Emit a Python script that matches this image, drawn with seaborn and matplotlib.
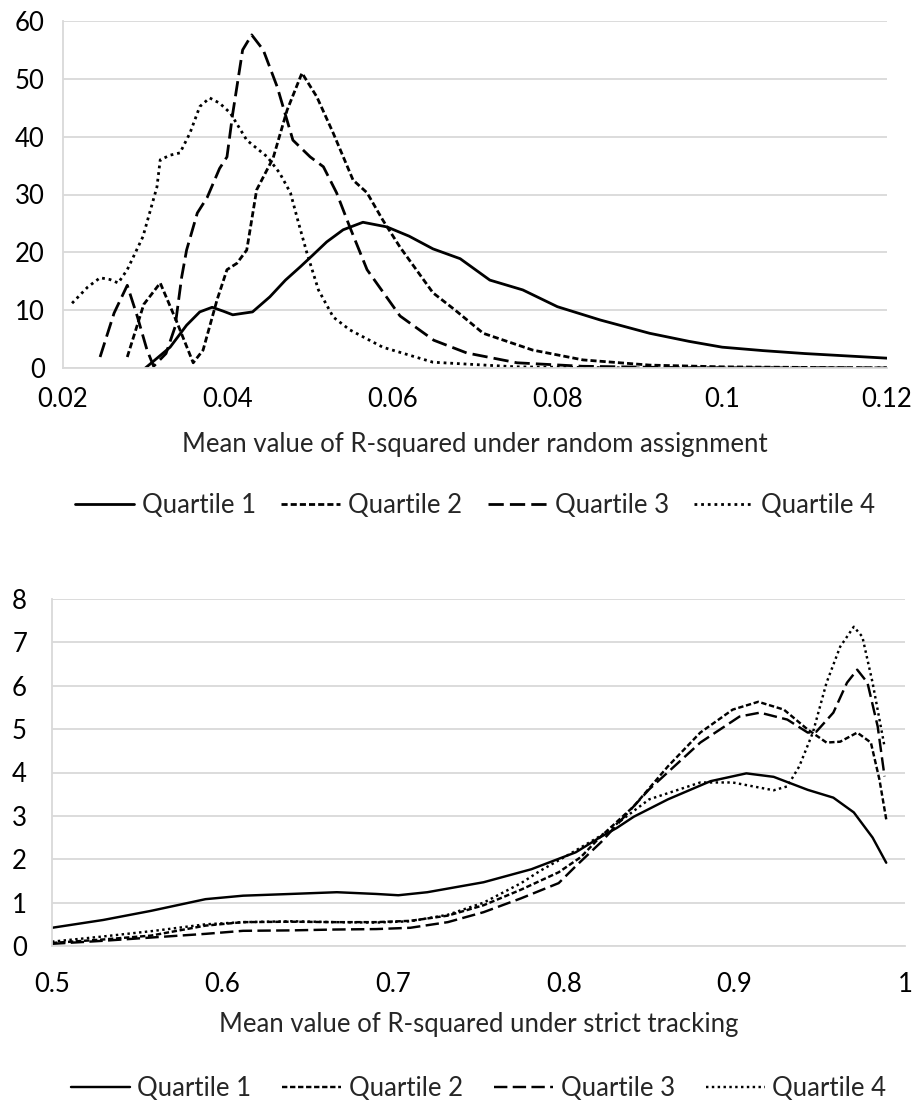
import matplotlib
matplotlib.use("Agg")
import matplotlib.pyplot as plt
import seaborn as sns
import pandas as pd

# panel 1: random assignment
ra_q1_x = [0.0300, 0.0330, 0.0350, 0.0366, 0.0381, 0.0395, 0.0406, 0.0430, 0.0451, 0.0470,
           0.0488, 0.0503, 0.0520, 0.0540, 0.0564, 0.0593, 0.0620, 0.0649, 0.0682, 0.0718,
           0.0758, 0.0800, 0.0852, 0.0912, 0.0960, 0.1000, 0.1050, 0.1100, 0.1200]
ra_q1_y = [0.0, 3.6, 7.4, 9.7, 10.5, 9.8, 9.2, 9.7, 12.3, 15.2,
           17.5, 19.5, 21.8, 23.9, 25.2, 24.4, 22.8, 20.6, 18.9, 15.2,
           13.5, 10.6, 8.3, 6.0, 4.6, 3.6, 3.0, 2.5, 1.7]

ra_q2_x = [0.0278, 0.0298, 0.0318, 0.0338, 0.0358, 0.0370, 0.0387, 0.0399, 0.0411, 0.0423,
           0.0435, 0.0455, 0.0472, 0.0490, 0.0508, 0.0528, 0.0552, 0.0569, 0.0588, 0.0609,
           0.0649, 0.0676, 0.0710, 0.0770, 0.0831, 0.0912, 0.1000, 0.1200]
ra_q2_y = [1.9, 11.0, 14.7, 8.0, 0.9, 3.1, 11.8, 17.0, 18.1, 20.4,
           30.8, 36.3, 44.6, 51.0, 46.9, 40.6, 32.5, 30.3, 25.6, 20.9,
           13.0, 10.0, 6.0, 3.1, 1.4, 0.5, 0.2, 0.0]

ra_q3_x = [0.0245, 0.0262, 0.0278, 0.0290, 0.0302, 0.0310, 0.0325, 0.0336, 0.0344, 0.0350,
           0.0363, 0.0375, 0.0390, 0.0399, 0.0406, 0.0418, 0.0429, 0.0443, 0.0460, 0.0479,
           0.0500, 0.0516, 0.0532, 0.0548, 0.0569, 0.0609, 0.0650, 0.0690, 0.0751, 0.0830,
           0.0950, 0.1200]
ra_q3_y = [1.9, 9.5, 14.3, 9.0, 3.1, 0.3, 2.5, 7.1, 15.7, 20.4,
           26.8, 29.5, 34.5, 36.5, 44.0, 55.0, 57.6, 55.0, 48.6, 39.4,
           36.5, 34.8, 30.3, 24.4, 17.0, 9.0, 4.8, 2.6, 0.9, 0.3,
           0.05, 0.0]

ra_q4_x = [0.0211, 0.0230, 0.0245, 0.0257, 0.0267, 0.0278, 0.0297, 0.0314, 0.0318, 0.0330,
           0.0342, 0.0354, 0.0366, 0.0378, 0.0390, 0.0403, 0.0423, 0.0448, 0.0463, 0.0476,
           0.0486, 0.0496, 0.0510, 0.0528, 0.0548, 0.0588, 0.0649, 0.0750, 0.0900, 0.1200]
ra_q4_y = [11.2, 14.0, 15.6, 15.3, 14.7, 17.0, 22.7, 31.3, 36.0, 36.8,
           37.2, 40.6, 45.2, 46.7, 45.8, 44.1, 39.4, 36.5, 33.7, 30.3,
           25.0, 19.9, 13.5, 8.8, 6.6, 3.6, 1.0, 0.2, 0.0, 0.0]

# panel 2: strict tracking
st_q1_x = [0.500, 0.530, 0.558, 0.590, 0.612, 0.640, 0.667, 0.690, 0.703, 0.720,
           0.753, 0.781, 0.807, 0.821, 0.831, 0.841, 0.861, 0.886, 0.907, 0.923,
           0.943, 0.958, 0.970, 0.981, 0.989]
st_q1_y = [0.42, 0.60, 0.81, 1.08, 1.16, 1.20, 1.24, 1.20, 1.17, 1.24,
           1.47, 1.77, 2.16, 2.50, 2.72, 2.98, 3.38, 3.80, 3.98, 3.90,
           3.60, 3.42, 3.08, 2.50, 1.92]

st_q2_x = [0.500, 0.530, 0.558, 0.590, 0.612, 0.640, 0.666, 0.690, 0.710, 0.732,
           0.753, 0.775, 0.797, 0.810, 0.821, 0.841, 0.861, 0.880, 0.899, 0.914,
           0.929, 0.943, 0.954, 0.962, 0.972, 0.980, 0.985, 0.989]
st_q2_y = [0.07, 0.15, 0.24, 0.47, 0.55, 0.56, 0.55, 0.55, 0.58, 0.70,
           0.94, 1.30, 1.70, 2.05, 2.50, 3.22, 4.14, 4.92, 5.45, 5.63,
           5.45, 4.99, 4.69, 4.71, 4.92, 4.69, 3.84, 2.92]

st_q3_x = [0.500, 0.530, 0.560, 0.590, 0.612, 0.640, 0.666, 0.690, 0.710, 0.732,
           0.753, 0.775, 0.797, 0.807, 0.822, 0.850, 0.880, 0.903, 0.915, 0.931,
           0.943, 0.948, 0.958, 0.966, 0.972, 0.978, 0.984, 0.988]
st_q3_y = [0.05, 0.12, 0.20, 0.28, 0.35, 0.36, 0.38, 0.39, 0.42, 0.55,
           0.78, 1.10, 1.45, 1.84, 2.40, 3.61, 4.69, 5.29, 5.38, 5.22,
           4.92, 4.94, 5.38, 6.07, 6.37, 6.07, 5.06, 3.91]

st_q4_x = [0.500, 0.530, 0.560, 0.590, 0.612, 0.640, 0.666, 0.690, 0.710, 0.732,
           0.753, 0.775, 0.786, 0.803, 0.822, 0.850, 0.880, 0.899, 0.923, 0.931,
           0.938, 0.946, 0.954, 0.962, 0.970, 0.975, 0.981, 0.988]
st_q4_y = [0.10, 0.22, 0.35, 0.50, 0.55, 0.57, 0.55, 0.54, 0.57, 0.72,
           1.00, 1.45, 1.73, 2.11, 2.55, 3.38, 3.77, 3.77, 3.59, 3.68,
           4.14, 4.92, 6.07, 6.90, 7.36, 7.13, 6.07, 4.60]

series_names = ["Quartile 1", "Quartile 2", "Quartile 3", "Quartile 4"]
ra_xticks = [0.02, 0.04, 0.06, 0.08, 0.1, 0.12]
ra_xticklabels = ["0.02", "0.04", "0.06", "0.08", "0.1", "0.12"]
ra_yticks = [0, 10, 20, 30, 40, 50, 60]
st_xticks = [0.5, 0.6, 0.7, 0.8, 0.9, 1.0]
st_xticklabels = ["0.5", "0.6", "0.7", "0.8", "0.9", "1"]
st_yticks = [0, 1, 2, 3, 4, 5, 6, 7, 8]


def long_frame(xs, ys):
    parts = []
    for name, x, y in zip(series_names, xs, ys):
        parts.append(pd.DataFrame({"x": x, "y": y, "series": name}))
    return pd.concat(parts, ignore_index=True)


dash_map = {"Quartile 1": "", "Quartile 2": (2.2, 1.1), "Quartile 3": (5.5, 2.2),
            "Quartile 4": (1.0, 1.4)}
GRID = "#d9d9d9"
FS = 18.5

sns.set_style("white")
plt.rcParams["font.family"] = ["Lato", "DejaVu Sans"]

fig = plt.figure(figsize=(9.13, 11.01), dpi=100)
ax1 = fig.add_axes([63 / 913, 1 - 368 / 1101, 824 / 913, 347 / 1101])
ax2 = fig.add_axes([52 / 913, 1 - 946 / 1101, 853 / 913, 347 / 1101])


def draw(ax, df, lw, xlim, ylim, xticks, xticklabels, yticks, xlabel,
         label_y, legend_y, ypad, xpad, colspace):
    sns.lineplot(data=df, x="x", y="y", hue="series", style="series",
                 palette=["black"] * 4, dashes=dash_map, estimator=None,
                 sort=False, lw=lw, ax=ax)
    ax.set_xlim(*xlim)
    ax.set_ylim(*ylim)
    ax.set_xticks(xticks)
    ax.set_xticklabels(xticklabels)
    ax.set_yticks(yticks)
    ax.yaxis.grid(True, color=GRID, lw=1.3)
    ax.set_axisbelow(True)
    for side in ["top", "right"]:
        ax.spines[side].set_visible(False)
    for side in ["left", "bottom"]:
        ax.spines[side].set_color(GRID)
        ax.spines[side].set_linewidth(1.3)
    ax.tick_params(length=0, labelsize=FS, colors="black")
    ax.tick_params(axis="y", pad=ypad)
    ax.tick_params(axis="x", pad=xpad)
    ax.set_ylabel("")
    ax.set_xlabel(xlabel, fontsize=FS)
    ax.xaxis.set_label_coords(0.5, label_y)
    sns.move_legend(ax, "center", bbox_to_anchor=(0.5, legend_y), ncol=4,
                    frameon=False, title=None, fontsize=FS, handlelength=2.3,
                    handletextpad=0.3, columnspacing=colspace)
    for h in ax.get_legend().get_lines():
        h.set_linewidth(lw)


draw(ax1, long_frame([ra_q1_x, ra_q2_x, ra_q3_x, ra_q4_x], [ra_q1_y, ra_q2_y, ra_q3_y, ra_q4_y]),
     2.0, (0.02, 0.12), (0, 60), ra_xticks, ra_xticklabels, ra_yticks,
     "Mean value of R-squared under random assignment", -0.185, -0.395, 13, 14, 1.0)
draw(ax2, long_frame([st_q1_x, st_q2_x, st_q3_x, st_q4_x], [st_q1_y, st_q2_y, st_q3_y, st_q4_y]),
     1.75, (0.5, 1.0), (0, 8), st_xticks, st_xticklabels, st_yticks,
     "Mean value of R-squared under strict tracking", -0.19, -0.412, 18, 19, 1.2)

fig.savefig("out.png", dpi=100)
